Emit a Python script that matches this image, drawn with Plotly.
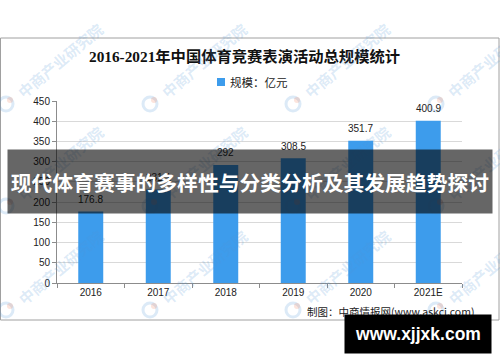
import plotly.graph_objects as go

# ---- data ----
categories = ["2016", "2017", "2018", "2019", "2020", "2021E"]
values = [176.8, 231.1, 292, 308.5, 351.7, 400.9]
value_labels = ["176.8", "231.1", "292", "308.5", "351.7", "400.9"]
y_ticks = [0, 50, 100, 150, 200, 250, 300, 350, 400, 450]

title_text = "2016-2021年中国体育竞赛表演活动总规模统计"
legend_text = "规模：亿元"
source_text = "制图：中商情报网(www.askci.com)"
banner_text = "现代体育赛事的多样性与分类分析及其发展趋势探讨"
site_text = "www.xjjxk.com"
watermark_text = "中商产业研究院"

W, H = 500, 362
ML, MR, MT, MB = 57, 38, 101, 79
PW, PH = W - ML - MR, H - MT - MB
BLUE = "#3d9cec"


def px(x):
    return (x - ML) / PW


def py(y):
    return (H - MB - y) / PH


fig = go.Figure()
fig.add_trace(go.Bar(
    x=categories, y=values,
    marker=dict(color=BLUE, line=dict(width=0)),
    showlegend=False, hoverinfo="x+y",
))

shapes = []
annotations = []

# outer frame
shapes.append(dict(type="rect", xref="paper", yref="paper",
                   x0=px(0.5), x1=px(499), y0=py(38), y1=py(320),
                   line=dict(color="#a0a0a0", width=1), layer="below"))

# data labels (placed through the axes' own scales; category axis uses serial index)
for i, (v, t) in enumerate(zip(values, value_labels)):
    annotations.append(dict(xref="x", yref="y", x=i, y=v, yshift=12,
                            xanchor="center", yanchor="middle", showarrow=False,
                            text=t,
                            font=dict(family="Liberation Sans, Arial", size=10, color="#222")))

# legend marker
shapes.append(dict(type="rect", xref="paper", yref="paper",
                   x0=px(217), x1=px(225), y0=py(78), y1=py(86),
                   fillcolor=BLUE, line=dict(width=0)))
annotations.append(dict(xref="paper", yref="paper", x=px(228), y=py(82),
                        xanchor="left", yanchor="middle", showarrow=False,
                        text=legend_text,
                        font=dict(family="Noto Sans CJK SC", size=11.5, color="#222")))

# title
annotations.append(dict(xref="paper", yref="paper", x=px(244), y=py(56),
                        xanchor="center", yanchor="middle", showarrow=False,
                        text="<b>" + title_text + "</b>",
                        font=dict(family="Liberation Serif, Noto Sans CJK SC", size=15.3, color="#111")))

# source
annotations.append(dict(xref="paper", yref="paper", x=px(305), y=py(311),
                        xanchor="left", yanchor="middle", showarrow=False,
                        text=source_text,
                        font=dict(family="Noto Sans CJK SC", size=10.5, color="#222")))

# watermarks
wm_x = [6, 150, 293, 436]
wm_y = [104, 206, 310]
for lx in wm_x:
    for ly in wm_y:
        shapes.append(dict(type="circle", xref="paper", yref="paper",
                           x0=px(lx - 7), x1=px(lx + 7), y0=py(ly - 7), y1=py(ly + 7),
                           line=dict(color="rgba(80,150,215,0.2)", width=3), layer="above"))
        shapes.append(dict(type="circle", xref="paper", yref="paper",
                           x0=px(lx + 1), x1=px(lx + 7), y0=py(ly - 7), y1=py(ly - 1),
                           fillcolor="rgba(240,120,80,0.2)", line=dict(width=0), layer="above"))
        annotations.append(dict(xref="paper", yref="paper", x=px(lx + 54), y=py(ly - 43),
                                xanchor="center", yanchor="middle", showarrow=False,
                                text="<b>" + watermark_text + "</b>", textangle=-40,
                                font=dict(family="Noto Sans CJK SC", size=15,
                                          color="rgba(80,150,215,0.2)")))

# banner overlay
annotations.append(dict(xref="paper", yref="paper", x=px(250), y=py(181.5),
                        xanchor="center", yanchor="middle", showarrow=False,
                        text="<b>" + banner_text + "</b>",
                        width=484, height=63, borderpad=0,
                        bgcolor="rgba(0,0,0,0.6)",
                        font=dict(family="Noto Sans CJK SC", size=20.8, color="white")))

# site box
annotations.append(dict(xref="paper", yref="paper", x=px(418), y=py(334),
                        xanchor="center", yanchor="middle", showarrow=False,
                        text="<b>" + site_text + "</b>",
                        width=146, height=38, borderpad=0,
                        bgcolor="#000000",
                        font=dict(family="Liberation Sans, Arial", size=17.5, color="white")))

fig.update_layout(
    width=W, height=H, autosize=False,
    margin=dict(l=ML, r=MR, t=MT, b=MB, pad=0),
    paper_bgcolor="white", plot_bgcolor="white",
    bargap=0.63,
    shapes=shapes, annotations=annotations,
    xaxis=dict(
        type="category", range=[-0.5, len(categories) - 0.5],
        showline=True, linecolor="#8c8c8c", linewidth=1,
        ticks="outside", ticklen=4, tickcolor="#8c8c8c", tickson="boundaries",
        showgrid=False,
        tickfont=dict(family="Liberation Sans, Arial", size=10, color="#222"),
    ),
    yaxis=dict(
        range=[0, 450], tickvals=y_ticks, showline=True, linecolor="#8c8c8c", linewidth=1,
        ticks="outside", ticklen=4, tickcolor="#8c8c8c",
        showgrid=True, gridcolor="#d9d9d9", gridwidth=1, zeroline=False,
        tickfont=dict(family="Liberation Sans, Arial", size=10, color="#222"),
    ),
)

fig.write_html("out.html")
